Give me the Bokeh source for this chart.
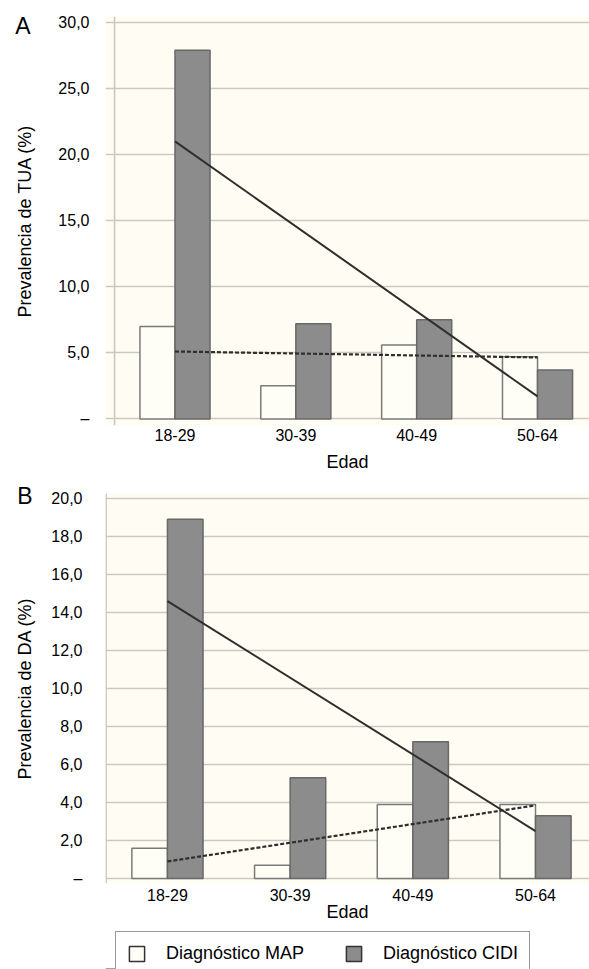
import numpy as np
from bokeh.plotting import figure
from bokeh.models import (FixedTicker, Span, Legend, LegendItem, Range1d,
                          LinearAxis)
from bokeh.layouts import column
from bokeh.embed import file_html
from bokeh.resources import INLINE

# ---------------- data ----------------
categories = ["18-29", "30-39", "40-49", "50-64"]

tua_map = [7.0, 2.5, 5.6, 4.7]
tua_cidi = [27.9, 7.2, 7.5, 3.7]
tua_trend_cidi = [21.0, 1.7]     # trend value at first / last age group
tua_trend_map = [5.1, 4.65]
tua_ticks = [0, 5, 10, 15, 20, 25, 30]
tua_tick_labels = ["–", "5,0", "10,0", "15,0", "20,0", "25,0", "30,0"]

da_map = [1.6, 0.7, 3.9, 3.9]
da_cidi = [18.9, 5.3, 7.2, 3.3]
da_trend_cidi = [14.6, 2.5]
da_trend_map = [0.9, 3.85]
da_ticks = [0, 2, 4, 6, 8, 10, 12, 14, 16, 18, 20]
da_tick_labels = ["–", "2,0", "4,0", "6,0", "8,0", "10,0", "12,0", "14,0",
                  "16,0", "18,0", "20,0"]

legend_labels = ["Diagnóstico MAP", "Diagnóstico CIDI"]

# ---------------- style ----------------
FONT = "Liberation Sans"
BG = "#fffdf3"
GRID = "#c9c9c1"
MAP_FILL = "#fffef6"
MAP_LINE = "#7a7a7a"
CIDI_FILL = "#8c8c8c"
CIDI_LINE = "#686868"
TREND = "#2e2e2e"
BAR_W = 0.29


def style_axis(ax, size="16px"):
    ax.axis_line_color = None
    ax.major_tick_line_color = None
    ax.minor_tick_line_color = None
    ax.major_tick_out = 0
    ax.major_tick_in = 0
    ax.major_label_text_font = FONT
    ax.major_label_text_font_size = size
    ax.major_label_text_color = "black"
    ax.axis_label_text_font = FONT
    ax.axis_label_text_font_size = "18px"
    ax.axis_label_text_font_style = "normal"
    ax.axis_label_text_color = "black"


def make_panel(letter, vmap, vcidi, tr_cidi, tr_map, ticks, tick_labels,
               ylabel, y_range, x_range, height, borders, frame_h,
               letter_pos, letter_standoff, ystandoff, ylab_standoff,
               xstandoff, xlab_standoff):
    top, bottom, left = borders
    p = figure(width=589, height=height, output_backend="svg",
               toolbar_location=None,
               x_range=Range1d(*x_range), y_range=Range1d(*y_range),
               min_border_top=top, min_border_bottom=bottom,
               min_border_left=left, min_border_right=0)
    p.background_fill_color = BG
    p.border_fill_color = "white"
    p.outline_line_color = None

    xi = np.arange(len(categories))

    # axes
    p.yaxis.ticker = FixedTicker(ticks=ticks)
    p.yaxis.major_label_overrides = {t: l for t, l in zip(ticks, tick_labels)}
    p.xaxis.ticker = FixedTicker(ticks=list(xi))
    p.xaxis.major_label_overrides = {int(i): c for i, c in zip(xi, categories)}
    style_axis(p.xaxis[0])
    style_axis(p.yaxis[0])
    p.yaxis.major_label_standoff = ystandoff
    p.yaxis.axis_label = ylabel
    p.yaxis.axis_label_standoff = ylab_standoff
    p.xaxis.major_label_standoff = xstandoff
    p.xaxis.axis_label = "Edad"
    p.xaxis.axis_label_standoff = xlab_standoff

    # panel letter, drawn as the only label of an extra left axis
    p.extra_y_ranges = {"letter": Range1d(0, frame_h)}
    lax = LinearAxis(y_range_name="letter",
                     ticker=FixedTicker(ticks=[letter_pos]),
                     major_label_overrides={letter_pos: letter})
    style_axis(lax, "23px")
    lax.major_label_standoff = letter_standoff
    p.add_layout(lax, "left")

    # grid
    p.xgrid.visible = False
    p.ygrid.ticker = FixedTicker(ticks=ticks)
    p.ygrid.grid_line_color = GRID
    p.ygrid.grid_line_width = 1.6
    p.add_layout(Span(location=-0.5, dimension="height",
                      line_color=GRID, line_width=1.6))

    # bars
    p.vbar(x=xi - BAR_W / 2, top=vmap, bottom=0, width=BAR_W,
           fill_color=MAP_FILL, line_color=MAP_LINE, line_width=1.5)
    p.vbar(x=xi + BAR_W / 2, top=vcidi, bottom=0, width=BAR_W,
           fill_color=CIDI_FILL, line_color=CIDI_LINE, line_width=1.5)

    # trend lines
    xe = [xi[0], xi[-1]]
    p.line(x=xe, y=tr_cidi, line_color=TREND, line_width=2)
    p.line(x=xe, y=tr_map, line_color=TREND, line_width=2.2,
           line_dash="4 2")
    return p


pA = make_panel("A", tua_map, tua_cidi, tua_trend_cidi, tua_trend_map,
                tua_ticks, tua_tick_labels, "Prevalencia de TUA (%)",
                (-0.5, 30.45), (-0.575, 3.43), 482, (16, 57, 105), 409,
                400, -18, 16, 20, 3, 8)

pB = make_panel("B", da_map, da_cidi, da_trend_cidi, da_trend_map,
                da_ticks, da_tick_labels, "Prevalencia de DA (%)",
                (-0.26, 20.26), (-0.505, 3.44), 449, (11, 48, 96), 390,
                388, -20, 23, 13, 5, -2)

# ---------------- legend strip ----------------
pL = figure(width=589, height=38, output_backend="svg", toolbar_location=None,
            x_range=Range1d(0, 1), y_range=Range1d(1, 2),
            x_axis_type=None, y_axis_type=None, min_border=0)
pL.outline_line_color = None
pL.background_fill_color = "white"
pL.border_fill_color = "white"
# legend proxies: zero-height bars lying outside the visible y range
r_map = pL.vbar(x=[0], top=[0], bottom=[0], width=BAR_W, fill_color=MAP_FILL,
                line_color="#333333", line_width=1.5)
r_cidi = pL.vbar(x=[0], top=[0], bottom=[0], width=BAR_W,
                 fill_color=CIDI_FILL, line_color="#333333", line_width=1.5)
legend = Legend(items=[LegendItem(label=legend_labels[0], renderers=[r_map]),
                       LegendItem(label=legend_labels[1], renderers=[r_cidi])],
                orientation="horizontal", location=(10, -7),
                border_line_color="#333333", border_line_width=1.5,
                background_fill_color="white", background_fill_alpha=1.0,
                label_text_font=FONT, label_text_font_size="18px",
                label_text_color="black",
                glyph_width=19, glyph_height=19, label_standoff=20,
                spacing=40, padding=11, margin=0)
pL.add_layout(legend, "center")

layout = column(pA, pB, pL, spacing=0)
open("out.html", "w").write(file_html(layout, INLINE))
